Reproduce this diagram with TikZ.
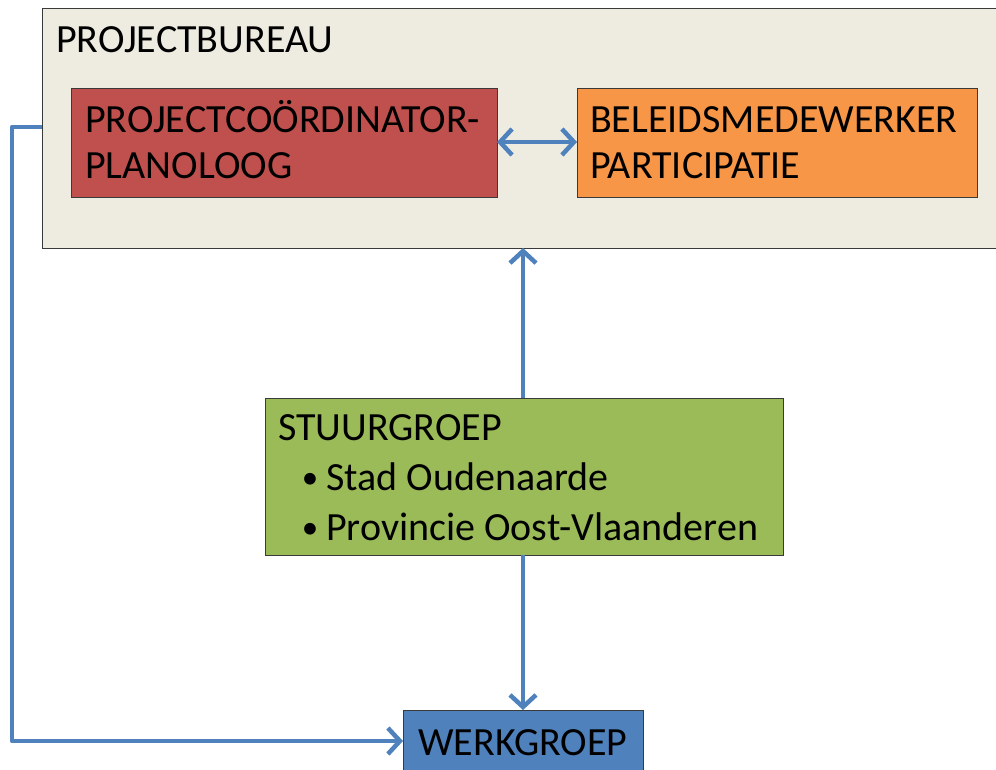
\documentclass[tikz,border=0pt]{standalone}
\usepackage{fontspec}
\setmainfont{Carlito}
\usetikzlibrary{arrows.meta}
\definecolor{pbfill}{HTML}{EEECE1}
\definecolor{redfill}{HTML}{C0504D}
\definecolor{orangefill}{HTML}{F79646}
\definecolor{greenfill}{HTML}{9BBB59}
\definecolor{bluefill}{HTML}{4F81BD}
\definecolor{linkcol}{HTML}{4F81BD}
\definecolor{edgecol}{HTML}{3A3A3A}
\tikzset{
  box/.style={draw=edgecol, line width=1.3pt, inner sep=0pt, anchor=north west},
  txt/.style={anchor=base west, inner sep=0pt, align=left, font=\fontsize{40}{46}\selectfont},
  link/.style={draw=linkcol, line width=4.5pt, line join=round,
    -{Straight Barb[length=12pt, width=26pt, line width=4.5pt]}},
  dlink/.style={draw=linkcol, line width=4.5pt,
    {Straight Barb[length=12pt, width=26pt, line width=4.5pt]}-{Straight Barb[length=12pt, width=26pt, line width=4.5pt]}}
}
\begin{document}
\begin{tikzpicture}[x=1pt, y=-1pt]
\useasboundingbox (0,0) rectangle (996,769);
\fill[white] (0,0) rectangle (996,769);
% boxes
\node[box, fill=pbfill, minimum width=970pt, minimum height=240pt] (pb) at (42,8) {};
\node[txt] (pbl) at (56,52) {PROJECTBUREAU};
\node[box, fill=redfill, minimum width=426pt, minimum height=109pt] (pc) at (71,88) {};
\node[txt] (pct) at (85,178) {PROJECTCOÖRDINATOR-\\PLANOLOOG};
\node[box, fill=orangefill, minimum width=400pt, minimum height=109pt] (bm) at (577,88) {};
\node[txt] (bmt) at (590,178) {BELEIDSMEDEWERKER\\PARTICIPATIE};
\node[box, fill=greenfill, minimum width=518pt, minimum height=157pt] (sg) at (265,398) {};
\node[txt, font=\fontsize{40}{50}\selectfont] (sgt) at (278,540) {STUURGROEP\\
  \hspace*{48pt}\llap{\fontsize{33}{33}\selectfont\raisebox{2pt}{•}\hspace{8pt}}Stad Oudenaarde\\
  \hspace*{48pt}\llap{\fontsize{33}{33}\selectfont\raisebox{2pt}{•}\hspace{8pt}}Provincie Oost-Vlaanderen};
\node[box, fill=bluefill, minimum width=240pt, minimum height=80pt] (wg) at (403,710) {};
\node[txt] (wgt) at (418,755) {WERKGROEP};
% connectors
\coordinate (sgtop) at (523,398);
\coordinate (pbbot) at (523,248);
\coordinate (sgbot) at (523,555);
\coordinate (wgtop) at (523,710);
\coordinate (pcr) at (497,142);
\coordinate (bml) at (577,142);
\coordinate (pbl1) at (42,127);
\coordinate (wgl) at (403,741);
\draw[dlink] (pcr) -- (bml);
\draw[link] (sgtop) -- (pbbot);
\draw[link] (sgbot) -- (wgtop);
\draw[link] (pbl1) -- (12,127) -- (12,741) -- (wgl);
\end{tikzpicture}
\end{document}
